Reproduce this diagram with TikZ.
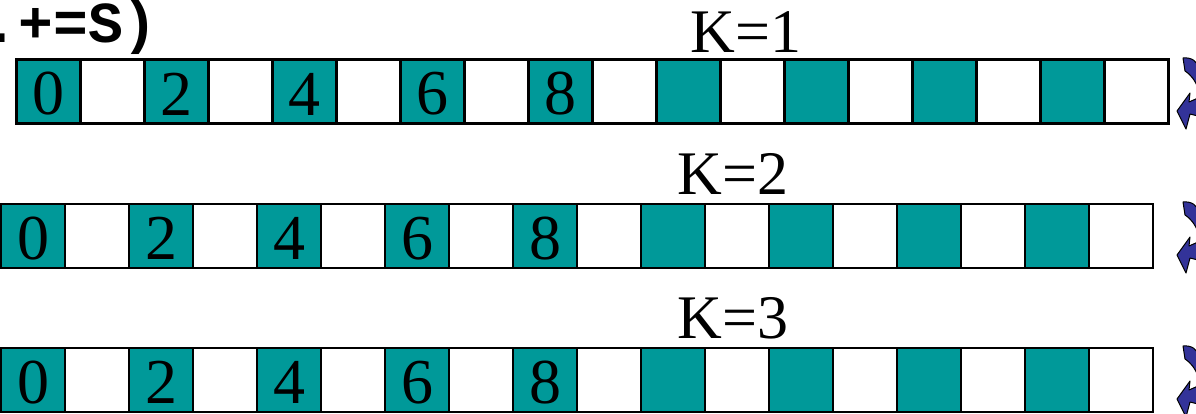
\documentclass[tikz,border=0pt]{standalone}
\usepackage{fontspec}
\setmainfont{Liberation Serif}
\newfontfamily\monofont{Liberation Mono}
\definecolor{tealfill}{RGB}{0,153,153}
\definecolor{arrowblue}{RGB}{51,51,153}
\begin{document}
\begin{tikzpicture}[x=1pt,y=-1pt,
  cellbox/.style={draw=black, line width=2.6pt, minimum width=64pt, minimum height=64pt,
    inner sep=0pt, outer sep=0pt, anchor=north west},
  digit/.style={font=\fontsize{64}{64}\selectfont, inner sep=0pt, anchor=center},
  klabel/.style={font=\fontsize{62}{62}\selectfont, inner sep=0pt, anchor=base},
  codetext/.style={font=\monofont\bfseries\fontsize{58}{58}\selectfont, inner sep=0pt, anchor=base east},
  turnarrow/.style={fill=arrowblue, draw=black, line width=1pt, line join=round}]
\useasboundingbox (0,0) rectangle (1196,413);
\foreach \r/\x/\y in {1/16.5/59.5, 2/1/204, 3/1/348}{
  \foreach \i in {0,...,17}{
    \ifodd\i \def\cellfill{white}\else\def\cellfill{tealfill}\fi
    \node[cellbox, fill=\cellfill] (c\r-\i) at ({\x+64*\i},\y) {};
  }
  \foreach \d in {0,2,4,6,8}{
    \node[digit, yshift=-2.5pt] (d\r-\d) at (c\r-\d.center) {\d};
  }
}
\node[klabel] (k1) at (746,52) {K=1};
\node[klabel] (k2) at (733,194) {K=2};
\node[klabel] (k3) at (733,338) {K=3};
\node[codetext] (code) at (158,42) {.+=S)};
\foreach \dy in {0,144,288}{
  \begin{scope}[shift={(0,\dy)}]
    \draw[turnarrow] (1183,58) .. controls (1192,57) and (1198,62) .. (1198,68)
      -- (1198,88) .. controls (1195,80) and (1190,74) .. (1185,71) -- cycle;
    \draw[turnarrow] (1177,111) -- (1190,93) -- (1189,102) -- (1198,98)
      -- (1198,116) -- (1190,114) -- (1186,129) -- cycle;
  \end{scope}
}
\end{tikzpicture}
\end{document}
